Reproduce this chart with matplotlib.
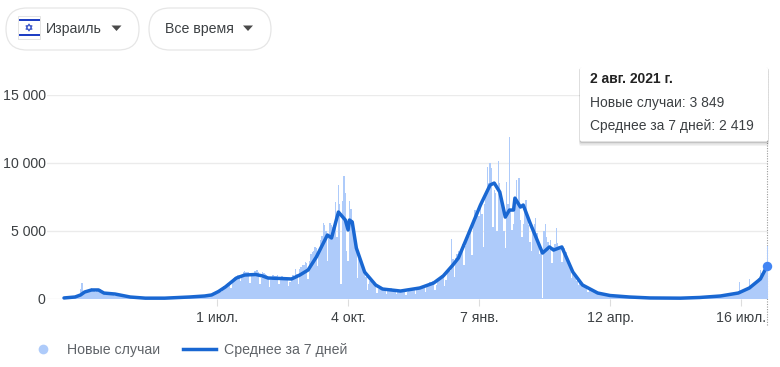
import matplotlib
matplotlib.use("Agg")
import matplotlib.pyplot as plt
import numpy as np
from matplotlib.lines import Line2D
from matplotlib.patches import FancyBboxPatch, Rectangle, Polygon, RegularPolygon

plt.rcParams['font.family'] = ['Liberation Sans', 'DejaVu Sans']

# Daily new cases; day 0 = 12 Mar 2020
cases = [
 25,30,20,50,60,70,90,
 120,130,90,200,300,700,1140,
 500,500,400,550,650,700,750,
 700,650,450,600,700,680,620,
 480,420,280,350,400,380,350,
 330,300,200,280,320,300,280,
 200,180,120,150,170,150,130,
 100,90,60,80,90,80,70,
 40,30,20,20,30,25,20,
 20,20,10,15,20,20,20,
 20,25,10,20,25,30,30,
 40,35,25,40,50,55,60,
 60,70,40,70,90,100,110,
 120,110,70,100,130,140,130,
 150,140,100,140,200,190,200,
 250,230,180,260,350,420,500,
 650,650,450,700,950,1000,1050,
 1150,1200,800,1250,1500,1550,1600,
 1700,1750,1300,1650,1950,2000,1950,
 1950,1950,1150,1650,1900,2000,2050,
 2100,1950,1100,1500,1950,1900,1800,
 1700,1550,850,1400,1700,1750,1650,
 1650,1700,1050,1400,1650,1600,1550,
 1550,1450,900,1250,1600,1700,1650,
 2150,1800,1100,2200,2300,2450,2500,
 2700,2600,1450,2800,3300,3450,3500,
 3800,3700,2400,3500,4300,4600,5560,
 5400,5000,2800,4500,5600,5400,5300,
 5200,7100,4500,8360,7000,1100,7200,
 9030,7800,3500,2800,7200,6600,5800,5200,
 4500,3800,1500,2900,2800,2500,2100,
 1800,1600,650,1100,1300,1200,1050,
 950,900,400,700,850,800,750,
 700,700,350,550,700,750,680,
 650,650,300,500,650,620,600,
 600,600,280,450,650,700,650,
 700,720,350,600,800,850,900,
 950,900,500,900,1100,1250,1200,
 1300,1200,650,1000,1350,1400,1500,
 1700,1600,900,1400,1900,2000,2050,
 4400,2900,1600,3000,3300,3500,3300,
 3600,4000,2500,3900,4680,4500,4600,
 5000,3200,5800,6500,6400,6300,6100,
 6670,6200,3800,7000,7800,9700,8500,
 9990,9600,5270,8000,7800,5000,10130,
 8500,7500,6500,5000,3720,8580,7000,
 11900,6500,5050,5500,7000,8730,7000,
 8870,5800,4500,5500,6800,7260,6000,
 5400,4200,3500,5200,5500,5930,4800,
 4000,3300,3400,50,5000,5490,4500,
 4200,3600,4300,2600,3800,4000,5200,
 4100,3900,3800,2700,3700,3700,3400,
 2900,2700,2300,1500,2100,1900,1700,
 1300,1000,1300,1200,1000,950,900,
 900,500,700,800,650,550,500,
 450,300,380,400,350,300,280,
 200,180,230,240,
 220,200,110,160,180,170,150,
 140,130,80,110,130,120,110,
 100,90,50,70,80,70,60,
 55,50,25,40,50,45,40,
 35,30,15,20,30,25,20,
 20,20,10,15,20,20,20,
 20,20,10,15,15,20,20,
 15,15,10,15,20,25,30,
 30,35,20,30,40,45,60,
 70,80,50,70,100,110,130,
 130,125,80,120,180,190,200,
 210,200,150,230,270,280,310,
 320,340,220,330,400,420,440,
 450,480,1240,420,520,600,620,
 700,850,1440,800,1000,1150,1200,
 1300,1200,1500,2100,1900,1700,2000,
 2300,3849,
]

# 7-day average, read at selected days
avg_days = [0,8,12,15,20,25,29,37,48,59,73,91,102,107,112,117,125,131,139,144,148,157,165,171,177,183,191,194,199,204,206,207,209,212,218,226,231,244,258,268,275,282,286,293,302,309,312,316,320,323,326,327,331,333,338,347,352,355,361,369,376,387,396,410,425,447,461,476,489,497,505,len(cases)-1]
avg_vals = [40,110,260,480,630,630,400,330,110,25,25,110,185,260,515,850,1510,1730,1770,1660,1510,1475,1440,1730,2100,3060,4680,4460,6375,5785,5050,5785,5640,3720,1950,995,700,550,775,1140,1660,2470,2985,4680,6890,8365,8510,7850,6000,6520,6520,7400,6740,6890,5560,3350,3800,3570,3800,1950,995,405,220,110,40,25,75,185,405,775,1440,2419]

y_ticks = [0, 5000, 10000, 15000]
y_labels = ['0', '5 000', '10 000', '15 000']
x_ticks = [111, 206, 301, 396, 491]
x_labels = ['1 июл.', '4 окт.', '7 янв.', '12 апр.', '16 июл.']

W, H = 780, 367
BAR = '#aecbfa'; LINE = '#1967d2'; TXT = '#3c4043'; GREY = '#5f6368'
fig = plt.figure(figsize=(W/100, H/100), dpi=100, facecolor='white')
L, R, T, B = 47, 768, 95, 298.5
ax = fig.add_axes([L/W, 1-B/H, (R-L)/W, (B-T)/H])
ppd = 1.379
ax.set_xlim((L-64)/ppd, (R-64)/ppd)
ax.set_ylim(0, 15000)
days = np.arange(len(cases))
ax.bar(days, cases, width=1.0, color=BAR, linewidth=0, zorder=2)
ax.plot(avg_days, avg_vals, color=LINE, lw=2.5, solid_joinstyle='round', solid_capstyle='round', zorder=3, clip_on=False)
ax.plot([avg_days[-1]], [avg_vals[-1]], 'o', ms=6.8, color='#4285f4', mew=0, zorder=4, clip_on=False)
ax.axvline(days[-1], ymin=-0.13, ymax=1.12, color='#9a9a9a', lw=0.8, ls=(0, (1, 1.3)), zorder=1, clip_on=False)
for s in ax.spines.values():
    s.set_visible(False)
ax.set_yticks(y_ticks, y_labels)
ax.set_xticks(x_ticks, x_labels)
ax.grid(axis='y', color='#ebebeb', lw=1, zorder=0)
ax.set_axisbelow(True)
ax.tick_params(axis='y', length=0, pad=1, labelsize=10.2, labelcolor=TXT)
ax.tick_params(axis='x', length=5, width=0.8, color='#dddddd', pad=4, labelsize=10.2, labelcolor=TXT)

leg = fig.legend(
    handles=[Line2D([], [], marker='o', ls='', ms=7, color=BAR, mew=0),
             Line2D([], [], color=LINE, lw=2.5)],
    labels=['Новые случаи', 'Среднее за 7 дней'],
    ncol=2, frameon=False, fontsize=10.2, labelcolor=GREY,
    loc='center left', bbox_to_anchor=(27/W, 1-350/H), borderaxespad=0, borderpad=0,
    handlelength=2.3, handletextpad=0.55, columnspacing=1.6)

# Overlay in pixel coordinates for the page furniture
ov = fig.add_axes([0, 0, 1, 1], zorder=10)
ov.set_xlim(0, W); ov.set_ylim(H, 0); ov.axis('off'); ov.patch.set_alpha(0)
for x0, x1 in [(6, 139), (149, 271)]:
    ov.add_patch(FancyBboxPatch((x0+21, 8+21), x1-x0-42, 0, boxstyle='round,pad=0,rounding_size=0', lw=0))
    ov.add_patch(FancyBboxPatch((x0+21, 29), x1-x0-42, 0.01, boxstyle='round,pad=21,rounding_size=21',
                                fc='white', ec='#e6e6e6', lw=0.9))
ov.add_patch(Rectangle((18, 16), 22, 23, fc='white', ec='#e4e4e4', lw=0.7))
ov.add_patch(Rectangle((18.5, 18.5), 21, 2.8, fc='#1f3fc4', lw=0))
ov.add_patch(Rectangle((18.5, 33.5), 21, 2.8, fc='#1f3fc4', lw=0))
ov.add_patch(RegularPolygon((29, 27.5), 3, radius=3.6, fc='none', ec='#3a55c8', lw=0.7))
ov.add_patch(RegularPolygon((29, 27.5), 3, radius=3.6, orientation=np.pi, fc='none', ec='#3a55c8', lw=0.7))
ov.text(46, 28.5, 'Израиль', fontsize=10.2, color=TXT, va='center')
ov.text(165, 28.5, 'Все время', fontsize=10.2, color=TXT, va='center')
for cx in (116.5, 248):
    ov.add_patch(Polygon([(cx-5, 25.5), (cx+5, 25.5), (cx, 31)], fc='#4a4a4a', lw=0))

# Tooltip
for off, a in [(3, .05), (2, .08), (1, .12)]:
    ov.add_patch(FancyBboxPatch((580-off*0.3, 67+off*0.5), 188+off*0.6, 74.5+off, boxstyle='round,pad=0,rounding_size=2',
                                fc='black', alpha=a, lw=0))
ov.add_patch(FancyBboxPatch((580, 67), 188, 74.5, boxstyle='round,pad=0,rounding_size=2', fc='white', lw=0))
ov.text(590, 79, '2 авг. 2021 г.', fontsize=10, fontweight='bold', color='#222222', va='center')
ov.text(590, 102.5, 'Новые случаи: 3 849', fontsize=10, color=TXT, va='center')
ov.text(590, 126, 'Среднее за 7 дней: 2 419', fontsize=10, color=TXT, va='center')

fig.savefig('out.png', dpi=100)
